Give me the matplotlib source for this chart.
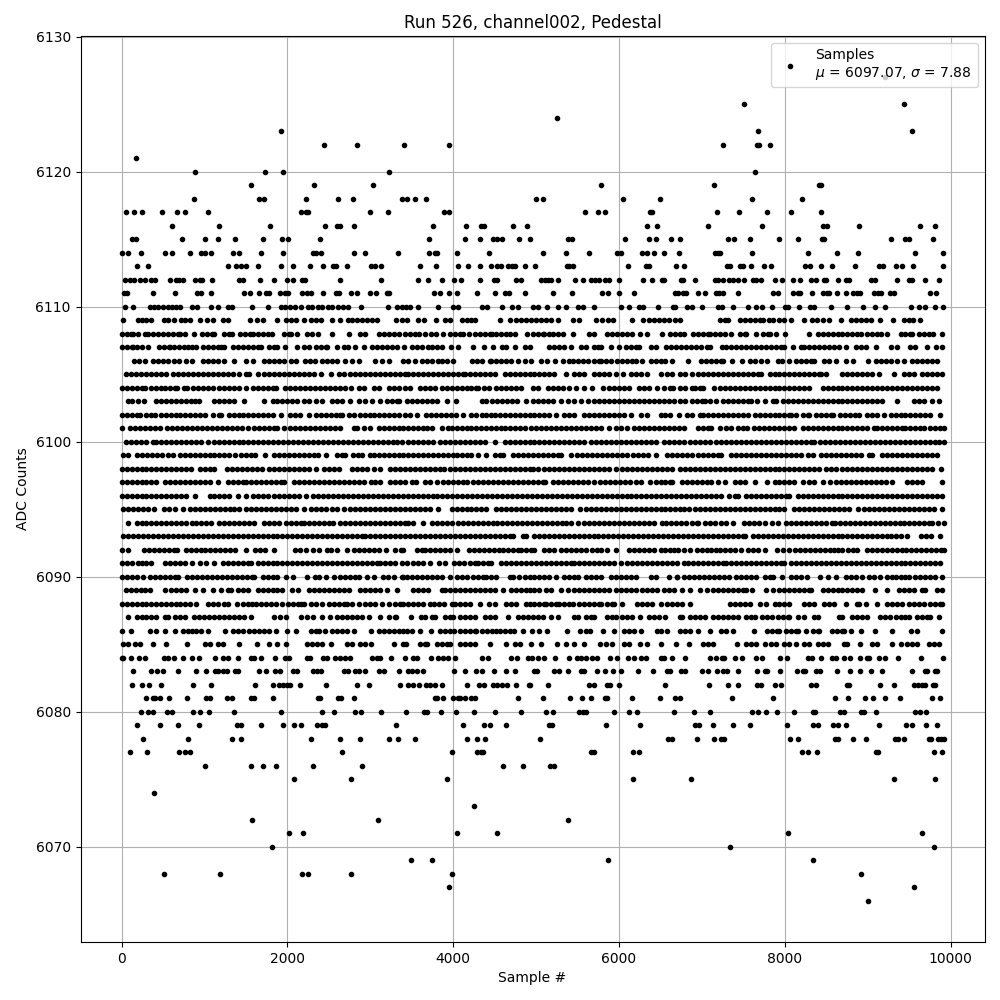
import matplotlib
matplotlib.use("Agg")
import matplotlib.pyplot as plt

s6127 = [9208]
s6125 = [7509, 9439]
s6124 = [5254]
s6123 = [1926, 7678, 9535]
s6122 = [2444, 2842, 3409, 3952, 7256, 7666, 7682, 7823]
s6121 = [177]
s6120 = [888, 1733, 1950, 3228, 7642]
s6119 = [1564, 2324, 3035, 5785, 7147, 8414, 8430]
s6118 = [876, 1660, 1720, 2227, 2613, 2794, 3385, 3445, 3542, 3674, 5001, 5085, 6050, 6496, 7606, 8209]
s6117 = [48, 145, 249, 490, 671, 768, 1045, 2167, 2227, 2251, 2999, 3216, 3891, 3952, 5592, 5749, 5833, 6372, 6392, 7184, 7449, 7787, 8077, 8438]
s6116 = [611, 1178, 1793, 2456, 2601, 2637, 2806, 3759, 4157, 4338, 4374, 4724, 4892, 6340, 6460, 7075, 7727, 8462, 8510, 8896, 9632, 9813]
s6115 = [129, 177, 732, 1009, 1166, 1371, 1709, 1938, 2010, 2396, 3710, 4145, 4326, 4482, 4522, 4591, 4796, 4925, 5387, 5435, 6075, 6364, 6448, 6629, 6738, 7316, 7389, 7582, 7932, 8161, 8450, 8470, 9282, 9451, 9500, 9789]
s6114 = [0, 80, 237, 527, 611, 828, 961, 1009, 1081, 1347, 1419, 1684, 1950, 2311, 2344, 2408, 2806, 2939, 3337, 3710, 3783, 3807, 4048, 4434, 5085, 5363, 5640, 5978, 6018, 6279, 6340, 6424, 6545, 6725, 7159, 7196, 7220, 7606, 8281, 8631, 8884, 9572, 9909]
s6113 = [189, 322, 1286, 1383, 1443, 1503, 1648, 1926, 2070, 2275, 2432, 2553, 2589, 2722, 3011, 3059, 3132, 3602, 3795, 4060, 4181, 4326, 4458, 4530, 4579, 4663, 4703, 4748, 4868, 4989, 5375, 5399, 5447, 6110, 6327, 6364, 6689, 6786, 7304, 7341, 7461, 7497, 7594, 7751, 7835, 8245, 8305, 8438, 8571, 8848, 9138, 9186, 9343, 9415, 9548, 9909]
s6112 = [44, 105, 153, 225, 285, 358, 406, 587, 659, 695, 744, 888, 949, 973, 1093, 1419, 1467, 1672, 1841, 1998, 2070, 2179, 2215, 2637, 3132, 3578, 3698, 3867, 4012, 4097, 4326, 4494, 4530, 4756, 4820, 5061, 5110, 5146, 5182, 5266, 5471, 5568, 5664, 5712, 5761, 5833, 5881, 6002, 6292, 6400, 6521, 6545, 6750, 6774, 6918, 7159, 7196, 7256, 7328, 7377, 7437, 7509, 7618, 7654, 7714, 7883, 7967, 8101, 8185, 8317, 8378, 8475, 8499, 8643, 8740, 8776, 9041, 9089, 9354, 9500, 9535, 9692, 9861]
s6111 = [28, 60, 382, 647, 912, 961, 1081, 1479, 1552, 1660, 1745, 1777, 1914, 1974, 2010, 2179, 2239, 2287, 2432, 2589, 2625, 2770, 2842, 2999, 3071, 3204, 3228, 3771, 3843, 3952, 4048, 4290, 4506, 4627, 4675, 4868, 5206, 5435, 5796, 5869, 6002, 6183, 6677, 6713, 6774, 6806, 6955, 7039, 7172, 7208, 7256, 7437, 7859, 7919, 8101, 8161, 8185, 8329, 8462, 8510, 8534, 8631, 8740, 8824, 8872, 8908, 9077, 9125, 9162, 9270, 9318, 9752, 9825]
s6110 = [41, 142, 342, 394, 443, 495, 563, 613, 653, 708, 853, 905, 1074, 1167, 1287, 1335, 1577, 1770, 1918, 1970, 2031, 2091, 2159, 2244, 2292, 2372, 2421, 2493, 2533, 2614, 2674, 2726, 2883, 3217, 3317, 3378, 3430, 3480, 3578, 3811, 4000, 4060, 4349, 4410, 4583, 4703, 4776, 4965, 5025, 5125, 5266, 5362, 5499, 5568, 5700, 6022, 6123, 6243, 6291, 6472, 6645, 6680, 6818, 6874, 7003, 7196, 7236, 7377, 7550, 7650, 7727, 7843, 8000, 8040, 8173, 8301, 8354, 8559, 8752, 8937, 9085, 9206, 9527, 9620, 9688, 9809, 9909]
s6109 = [20, 192, 248, 300, 352, 512, 560, 632, 712, 768, 820, 944, 1032, 1100, 1220, 1280, 1552, 1632, 1700, 1880, 1980, 2040, 2100, 2200, 2280, 2340, 2400, 2540, 2632, 2728, 2784, 2840, 2900, 2960, 3020, 3080, 3312, 3380, 3440, 3580, 3652, 3796, 3900, 3960, 4100, 4160, 4220, 4260, 4564, 4684, 4760, 4820, 4880, 4940, 5000, 5060, 5120, 5180, 5260, 5448, 5520, 5720, 5792, 5872, 5928, 6160, 6292, 6360, 6420, 6480, 6540, 6600, 6680, 6740, 7215, 7275, 7315, 7463, 7523, 7583, 7643, 7703, 7740, 7807, 7855, 7935, 7995, 8075, 8235, 8323, 8387, 8455, 8535, 8683, 8795, 8855, 8915, 8975, 9035, 9147, 9303, 9435, 9495, 9547, 9627]
s6108 = [10, 60, 110, 140, 200, 280, 320, 380, 440, 500, 560, 620, 680, 700, 768, 872, 968, 1032, 1090, 1112, 1232, 1290, 1328, 1432, 1490, 1550, 1580, 1640, 1700, 1760, 1808, 1960, 2020, 2040, 2112, 2240, 2300, 2368, 2540, 2740, 2872, 2940, 3100, 3168, 3230, 3290, 3350, 3420, 3480, 3540, 3592, 3660, 3732, 3788, 3872, 3960, 4020, 4080, 4120, 4188, 4260, 4320, 4380, 4440, 4468, 4520, 4580, 4640, 4680, 4740, 4888, 4960, 5020, 5080, 5100, 5152, 5208, 5260, 5320, 5444, 5640, 5700, 5860, 5920, 5980, 6040, 6100, 6160, 6252, 6340, 6520, 6620, 6680, 6740, 6780, 6895, 6955, 7015, 7075, 7095, 7155, 7215, 7275, 7347, 7455, 7515, 7535, 7655, 7735, 7795, 7815, 7899, 8007, 8287, 8395, 8455, 8515, 8575, 8635, 8695, 8755, 8815, 8875, 8915, 8995, 9055, 9115, 9155, 9227, 9395, 9455, 9515, 9535, 9615, 9675, 9735, 9787, 9895]
s6107 = [0, 60, 120, 140, 180, 240, 320, 448, 510, 570, 580, 632, 690, 750, 800, 848, 900, 980, 1040, 1100, 1160, 1200, 1240, 1340, 1400, 1460, 1520, 1580, 1640, 1680, 1780, 1840, 1880, 1968, 2120, 2200, 2260, 2340, 2400, 2460, 2480, 2592, 2680, 2732, 2820, 2920, 3020, 3080, 3140, 3200, 3260, 3320, 3412, 3500, 3560, 3620, 3700, 3740, 3800, 3860, 3972, 4060, 4240, 4372, 4480, 4588, 4640, 4744, 4868, 4920, 5160, 5220, 5280, 5340, 5420, 5540, 5600, 5700, 5750, 5780, 5900, 6004, 6080, 6140, 6200, 6240, 6380, 6440, 6572, 6630, 6690, 6750, 6810, 6870, 6930, 6990, 7060, 7095, 7243, 7295, 7355, 7415, 7475, 7535, 7595, 7655, 7715, 7775, 7835, 7895, 7955, 7995, 8095, 8195, 8235, 8295, 8355, 8415, 8475, 8535, 8595, 8655, 8735, 8855, 8915, 8975, 9095, 9275, 9347, 9507, 9575, 9715, 9827, 9895]
s6106 = [152, 210, 280, 380, 440, 500, 560, 632, 690, 780, 848, 980, 1040, 1100, 1160, 1240, 1352, 1500, 1580, 1720, 1780, 1840, 1900, 1960, 2040, 2108, 2212, 2270, 2330, 2420, 2480, 2540, 2600, 2700, 2780, 2860, 3060, 3140, 3224, 3400, 3460, 3540, 3620, 3680, 3740, 3820, 3860, 3920, 4000, 4228, 4290, 4350, 4440, 4460, 4520, 4580, 4640, 4700, 4780, 4860, 4932, 5060, 5130, 5228, 5320, 5400, 5440, 5500, 5560, 5620, 5700, 5760, 5780, 5840, 5900, 5980, 6040, 6100, 6160, 6200, 6280, 6380, 6440, 6500, 6560, 6640, 6827, 6987, 7050, 7110, 7170, 7235, 7255, 7363, 7487, 7575, 7635, 7715, 7790, 7915, 7963, 8055, 8135, 8195, 8255, 8315, 8355, 8475, 8535, 8615, 8735, 8819, 9007, 9095, 9155, 9215, 9275, 9355, 9443, 9535, 9595, 9655, 9715, 9775, 9835]
s6105 = [48, 110, 170, 230, 290, 350, 420, 480, 540, 620, 680, 740, 800, 860, 920, 980, 1040, 1100, 1160, 1220, 1280, 1340, 1420, 1500, 1540, 1640, 1720, 1780, 1840, 1900, 1960, 2020, 2080, 2140, 2200, 2260, 2320, 2408, 2520, 2620, 2680, 2760, 2820, 2880, 2940, 3000, 3060, 3120, 3180, 3240, 3300, 3360, 3420, 3460, 3520, 3580, 3640, 3700, 3760, 3820, 3880, 3940, 4000, 4060, 4120, 4140, 4200, 4260, 4320, 4380, 4440, 4500, 4620, 4680, 4740, 4800, 4860, 4920, 4980, 5040, 5100, 5160, 5220, 5360, 5460, 5520, 5580, 5700, 5760, 5820, 5880, 5960, 6052, 6148, 6210, 6270, 6340, 6500, 6580, 6640, 6740, 6800, 6875, 6955, 7015, 7075, 7135, 7195, 7255, 7315, 7375, 7435, 7495, 7555, 7615, 7675, 7715, 7815, 7875, 7935, 7995, 8055, 8115, 8175, 8235, 8295, 8355, 8415, 8435, 8495, 8695, 8755, 8815, 8875, 8935, 8995, 9055, 9135, 9315, 9435, 9495, 9555, 9655, 9715, 9775, 9835, 9895]
s6104 = [0, 60, 120, 180, 240, 280, 360, 420, 480, 520, 580, 640, 668, 752, 792, 860, 920, 980, 1040, 1100, 1180, 1240, 1300, 1360, 1420, 1500, 1580, 1640, 1700, 1760, 1820, 1860, 1968, 2030, 2090, 2150, 2210, 2270, 2330, 2390, 2450, 2510, 2570, 2630, 2690, 2768, 2860, 2920, 3040, 3100, 3220, 3280, 3340, 3420, 3480, 3600, 3660, 3720, 3780, 3860, 3920, 3980, 4040, 4100, 4160, 4220, 4280, 4300, 4372, 4436, 4520, 4580, 4640, 4700, 4760, 4820, 4960, 5020, 5140, 5200, 5260, 5320, 5400, 5480, 5580, 5668, 5812, 5880, 5940, 6000, 6060, 6120, 6240, 6300, 6360, 6460, 6540, 6620, 6652, 6730, 6790, 6880, 6915, 6975, 7015, 7147, 7215, 7275, 7335, 7395, 7455, 7515, 7575, 7635, 7695, 7755, 7815, 7875, 7935, 7995, 8055, 8115, 8175, 8235, 8295, 8455, 8515, 8575, 8635, 8695, 8755, 8815, 8875, 8935, 8995, 9055, 9115, 9175, 9235, 9295, 9355, 9415, 9475, 9535, 9595, 9655, 9715, 9775, 9835]
s6103 = [72, 130, 200, 272, 420, 480, 540, 600, 660, 720, 780, 840, 880, 928, 1112, 1180, 1240, 1300, 1360, 1480, 1712, 1820, 1880, 1940, 2000, 2060, 2120, 2200, 2260, 2340, 2420, 2540, 2600, 2660, 2752, 2860, 2940, 3020, 3120, 3200, 3260, 3320, 3340, 3440, 3500, 3560, 3620, 3680, 3740, 3800, 3920, 4036, 4348, 4400, 4470, 4530, 4590, 4650, 4710, 4770, 4880, 4960, 5020, 5080, 5140, 5200, 5300, 5380, 5460, 5540, 5620, 5700, 5760, 5820, 5880, 5940, 6000, 6060, 6120, 6180, 6240, 6300, 6360, 6420, 6480, 6540, 6600, 6660, 6740, 6800, 6875, 6935, 6995, 7035, 7095, 7175, 7255, 7315, 7375, 7435, 7495, 7555, 7595, 7667, 7755, 7855, 7895, 7975, 8035, 8095, 8155, 8215, 8275, 8335, 8395, 8455, 8515, 8575, 8635, 8695, 8755, 8815, 8875, 8935, 8995, 9055, 9115, 9175, 9347, 9555, 9615, 9675, 9775, 9859]
s6102 = [0, 60, 120, 180, 220, 300, 360, 408, 470, 530, 600, 650, 710, 770, 830, 890, 950, 1000, 1108, 1170, 1200, 1292, 1350, 1410, 1470, 1530, 1590, 1650, 1710, 1770, 1830, 1920, 2032, 2090, 2150, 2260, 2340, 2400, 2460, 2520, 2580, 2640, 2660, 2740, 2808, 2870, 2930, 2990, 3050, 3110, 3170, 3230, 3290, 3350, 3420, 3480, 3560, 3668, 3730, 3790, 3850, 3910, 3970, 4030, 4120, 4220, 4280, 4348, 4400, 4460, 4500, 4560, 4620, 4680, 4740, 4800, 4860, 4920, 4980, 5040, 5100, 5160, 5240, 5340, 5400, 5460, 5572, 5640, 5700, 5760, 5820, 5880, 5940, 6000, 6060, 6140, 6260, 6340, 6500, 6560, 6620, 6720, 6820, 6880, 6975, 7015, 7075, 7135, 7195, 7255, 7315, 7375, 7435, 7495, 7555, 7635, 7695, 7755, 7815, 7875, 7935, 7995, 8055, 8075, 8135, 8215, 8275, 8295, 8375, 8435, 8495, 8555, 8575, 8663, 8723, 8783, 8843, 8895, 8995, 9055, 9115, 9195, 9275, 9335, 9395, 9455, 9515, 9575, 9635, 9695, 9755, 9875]
s6101 = [0, 100, 160, 220, 280, 340, 400, 460, 548, 608, 668, 728, 788, 848, 908, 968, 1028, 1088, 1148, 1208, 1268, 1328, 1388, 1448, 1520, 1600, 1660, 1720, 1780, 1840, 1880, 1960, 2030, 2090, 2150, 2210, 2270, 2330, 2390, 2450, 2510, 2570, 2630, 2800, 2840, 2920, 3000, 3100, 3170, 3230, 3290, 3340, 3400, 3460, 3520, 3580, 3640, 3680, 3740, 3860, 3940, 3980, 4040, 4100, 4160, 4220, 4280, 4340, 4400, 4460, 4520, 4580, 4620, 4680, 4740, 4800, 4860, 4940, 5000, 5060, 5120, 5180, 5240, 5300, 5360, 5420, 5480, 5540, 5600, 5660, 5720, 5780, 5880, 5960, 6020, 6100, 6180, 6240, 6300, 6360, 6420, 6480, 6540, 6600, 6660, 6720, 6780, 6955, 7015, 7075, 7115, 7215, 7295, 7355, 7435, 7495, 7547, 7625, 7685, 7745, 7805, 7865, 7925, 7985, 8045, 8115, 8215, 8275, 8335, 8395, 8455, 8515, 8575, 8635, 8695, 8755, 8815, 8875, 8935, 8995, 9075, 9115, 9175, 9235, 9295, 9355, 9415, 9455, 9515, 9575, 9635, 9675, 9755, 9815, 9875, 9923]
s6100 = [48, 110, 170, 230, 290, 380, 420, 480, 540, 600, 660, 720, 780, 840, 900, 960, 1040, 1112, 1170, 1230, 1290, 1350, 1410, 1470, 1530, 1590, 1650, 1710, 1770, 1830, 1890, 1950, 2010, 2070, 2130, 2190, 2250, 2310, 2370, 2430, 2490, 2550, 2610, 2670, 2730, 2790, 2850, 2910, 2970, 3030, 3090, 3150, 3210, 3270, 3320, 3380, 3460, 3520, 3580, 3640, 3700, 3760, 3840, 3900, 3960, 4020, 4080, 4140, 4200, 4260, 4320, 4380, 4500, 4620, 4680, 4740, 4800, 4860, 4920, 4980, 5040, 5100, 5160, 5220, 5280, 5340, 5400, 5460, 5520, 5580, 5660, 5720, 5780, 5840, 5900, 5960, 6020, 6080, 6140, 6200, 6260, 6320, 6380, 6440, 6540, 6600, 6660, 6720, 6780, 6855, 6915, 6975, 7035, 7095, 7175, 7235, 7295, 7355, 7415, 7475, 7535, 7595, 7655, 7715, 7775, 7835, 7895, 7955, 8015, 8075, 8135, 8195, 8255, 8315, 8355, 8425, 8485, 8545, 8605, 8665, 8725, 8785, 8845, 8905, 8965, 9025, 9085, 9145, 9205, 9265, 9325, 9385, 9445, 9505, 9565, 9625, 9685, 9745, 9805, 9865, 9915]
s6099 = [20, 80, 180, 240, 312, 372, 432, 492, 560, 620, 700, 760, 820, 880, 940, 1000, 1060, 1120, 1180, 1240, 1300, 1368, 1440, 1500, 1560, 1612, 1728, 1840, 1900, 1960, 2020, 2080, 2140, 2200, 2260, 2320, 2368, 2460, 2600, 2660, 2700, 2790, 2850, 2900, 2990, 3050, 3110, 3170, 3230, 3290, 3350, 3400, 3460, 3520, 3580, 3640, 3700, 3760, 3820, 3880, 3940, 4000, 4040, 4100, 4160, 4220, 4300, 4400, 4500, 4560, 4600, 4720, 4780, 4840, 4900, 4960, 5020, 5080, 5140, 5200, 5260, 5300, 5420, 5490, 5550, 5610, 5670, 5730, 5790, 5850, 5910, 5970, 6030, 6090, 6170, 6230, 6290, 6350, 6440, 6580, 6640, 6700, 6755, 6815, 6875, 6955, 7015, 7075, 7135, 7195, 7235, 7355, 7415, 7475, 7535, 7595, 7655, 7715, 7775, 7835, 7895, 7955, 8015, 8075, 8135, 8195, 8275, 8335, 8435, 8495, 8555, 8615, 8675, 8735, 8795, 8855, 8915, 9015, 9055, 9175, 9235, 9295, 9355, 9415, 9475, 9535, 9595, 9655, 9715, 9775, 9835]
s6098 = [0, 60, 120, 180, 240, 300, 360, 420, 480, 540, 600, 660, 720, 780, 840, 940, 1000, 1060, 1120, 1272, 1330, 1390, 1450, 1510, 1570, 1630, 1690, 1780, 1840, 1900, 1960, 2020, 2080, 2140, 2200, 2260, 2340, 2440, 2500, 2560, 2620, 2780, 2840, 2900, 2960, 3040, 3120, 3240, 3300, 3360, 3420, 3480, 3540, 3600, 3660, 3720, 3780, 3840, 3892, 3960, 4020, 4080, 4140, 4200, 4260, 4320, 4380, 4440, 4500, 4560, 4620, 4680, 4740, 4800, 4860, 4920, 4960, 5020, 5100, 5160, 5220, 5280, 5340, 5400, 5460, 5520, 5580, 5640, 5700, 5760, 5820, 5880, 5960, 6040, 6100, 6160, 6220, 6280, 6340, 6400, 6460, 6520, 6580, 6640, 6735, 6795, 6855, 6915, 6975, 7035, 7095, 7155, 7215, 7275, 7335, 7395, 7455, 7515, 7575, 7635, 7695, 7755, 7815, 7875, 7935, 7995, 8055, 8115, 8175, 8235, 8295, 8355, 8415, 8495, 8555, 8615, 8695, 8755, 8815, 8875, 8935, 8995, 9055, 9115, 9175, 9235, 9295, 9355, 9415, 9475, 9535, 9595, 9655, 9715, 9775, 9887]
s6097 = [0, 60, 120, 180, 240, 300, 360, 420, 520, 580, 640, 700, 760, 820, 880, 940, 1000, 1060, 1160, 1288, 1340, 1400, 1460, 1500, 1560, 1620, 1680, 1740, 1800, 1860, 1920, 1960, 2080, 2140, 2200, 2260, 2320, 2380, 2440, 2500, 2560, 2620, 2680, 2740, 2800, 2860, 2920, 3008, 3060, 3120, 3240, 3300, 3360, 3420, 3500, 3552, 3660, 3720, 3800, 3880, 3940, 4000, 4060, 4120, 4160, 4240, 4300, 4360, 4420, 4480, 4540, 4600, 4660, 4720, 4780, 4840, 4900, 4960, 5020, 5080, 5108, 5200, 5260, 5320, 5380, 5440, 5500, 5560, 5620, 5700, 5770, 5830, 5890, 5950, 6010, 6070, 6130, 6200, 6260, 6372, 6450, 6500, 6560, 6620, 6640, 6760, 6815, 6875, 6935, 6995, 7055, 7115, 7195, 7283, 7395, 7455, 7515, 7635, 7779, 7875, 7935, 7995, 8055, 8115, 8215, 8295, 8355, 8455, 8550, 8615, 8675, 8735, 8795, 8855, 8915, 8975, 9035, 9095, 9155, 9215, 9295, 9475, 9535, 9595, 9655, 9895]
s6096 = [0, 60, 120, 180, 240, 300, 360, 420, 480, 540, 600, 660, 720, 780, 880, 1060, 1120, 1180, 1240, 1300, 1400, 1500, 1580, 1640, 1700, 1760, 1840, 1900, 1960, 2020, 2080, 2140, 2224, 2310, 2370, 2430, 2490, 2550, 2610, 2670, 2730, 2790, 2850, 2910, 2970, 3030, 3090, 3150, 3210, 3270, 3330, 3390, 3450, 3510, 3570, 3630, 3690, 3750, 3810, 3870, 3930, 3990, 4050, 4110, 4170, 4230, 4290, 4350, 4410, 4470, 4530, 4590, 4650, 4710, 4770, 4830, 4890, 4950, 5010, 5070, 5130, 5190, 5250, 5310, 5370, 5430, 5490, 5550, 5610, 5670, 5730, 5790, 5850, 5910, 5970, 6030, 6090, 6150, 6210, 6270, 6330, 6390, 6450, 6510, 6570, 6630, 6690, 6750, 6810, 6870, 6930, 6990, 7050, 7110, 7170, 7230, 7323, 7395, 7435, 7535, 7595, 7655, 7715, 7775, 7835, 7895, 7955, 8015, 8055, 8155, 8215, 8275, 8335, 8395, 8455, 8515, 8575, 8635, 8695, 8755, 8815, 8875, 8935, 8995, 9055, 9115, 9175, 9235, 9295, 9355, 9415, 9475, 9535, 9595, 9655, 9715, 9775, 9835, 9895]
s6095 = [20, 80, 140, 200, 260, 320, 392, 512, 570, 640, 740, 830, 890, 950, 1010, 1070, 1130, 1190, 1250, 1310, 1360, 1420, 1500, 1560, 1620, 1680, 1740, 1800, 1860, 1920, 1980, 2040, 2100, 2200, 2280, 2340, 2400, 2460, 2540, 2600, 2680, 2760, 2820, 2880, 2940, 3000, 3060, 3120, 3180, 3240, 3300, 3360, 3420, 3480, 3540, 3600, 3660, 3720, 3820, 3980, 4040, 4100, 4160, 4220, 4280, 4340, 4400, 4520, 4580, 4640, 4700, 4760, 4820, 4880, 4940, 5000, 5060, 5120, 5180, 5240, 5300, 5360, 5420, 5532, 5600, 5660, 5720, 5780, 5840, 5900, 5960, 6020, 6080, 6140, 6200, 6260, 6320, 6380, 6440, 6500, 6560, 6620, 6680, 6740, 6780, 6843, 6915, 6975, 7035, 7095, 7155, 7215, 7275, 7335, 7395, 7455, 7515, 7575, 7635, 7695, 7755, 7815, 7875, 7935, 7995, 8107, 8175, 8235, 8295, 8355, 8415, 8475, 8535, 8595, 8655, 8715, 8775, 8887, 8955, 9015, 9075, 9135, 9195, 9255, 9315, 9375, 9435, 9495, 9555, 9615, 9675, 9735, 9795, 9895]
s6094 = [72, 180, 240, 300, 360, 420, 480, 540, 600, 660, 720, 780, 848, 900, 960, 1020, 1080, 1180, 1240, 1300, 1360, 1420, 1480, 1540, 1600, 1720, 1780, 1840, 1900, 1980, 2040, 2100, 2160, 2200, 2260, 2320, 2380, 2440, 2500, 2552, 2640, 2700, 2760, 2820, 2880, 2940, 3000, 3060, 3120, 3180, 3240, 3300, 3360, 3420, 3460, 3520, 3640, 3740, 3800, 3860, 3920, 3980, 4060, 4120, 4180, 4240, 4300, 4360, 4420, 4480, 4532, 4592, 4652, 4712, 4772, 4832, 4892, 4952, 5012, 5072, 5132, 5192, 5252, 5312, 5360, 5420, 5500, 5580, 5640, 5700, 5760, 5820, 5880, 5940, 6000, 6060, 6120, 6180, 6240, 6300, 6360, 6420, 6512, 6570, 6630, 6690, 6750, 6810, 6875, 6935, 6955, 7035, 7095, 7155, 7235, 7295, 7375, 7507, 7567, 7627, 7687, 7763, 7843, 7923, 8015, 8075, 8135, 8195, 8255, 8315, 8375, 8435, 8495, 8563, 8603, 8663, 8723, 8783, 8843, 8903, 8963, 9023, 9083, 9143, 9203, 9263, 9323, 9383, 9443, 9503, 9563, 9623, 9683, 9743, 9775, 9847, 9915]
s6093 = [20, 80, 140, 200, 260, 320, 380, 440, 500, 560, 620, 680, 740, 800, 860, 920, 980, 1040, 1100, 1160, 1220, 1280, 1340, 1400, 1460, 1520, 1580, 1640, 1700, 1760, 1820, 1880, 1940, 2000, 2060, 2120, 2180, 2240, 2300, 2360, 2420, 2480, 2540, 2600, 2660, 2720, 2780, 2840, 2900, 2940, 3000, 3060, 3120, 3180, 3240, 3300, 3360, 3420, 3480, 3540, 3600, 3660, 3720, 3780, 3840, 3900, 3960, 4020, 4080, 4140, 4200, 4260, 4320, 4380, 4440, 4500, 4560, 4620, 4680, 4720, 4840, 4880, 4972, 5032, 5092, 5152, 5212, 5272, 5332, 5392, 5452, 5512, 5572, 5632, 5692, 5752, 5812, 5872, 5932, 5992, 6052, 6112, 6172, 6232, 6292, 6352, 6412, 6472, 6532, 6592, 6652, 6712, 6772, 6832, 6892, 6952, 7012, 7072, 7132, 7192, 7252, 7312, 7372, 7432, 7492, 7515, 7615, 7675, 7735, 7795, 7855, 7915, 7975, 8035, 8095, 8155, 8215, 8275, 8335, 8395, 8455, 8515, 8575, 8635, 8695, 8755, 8815, 8875, 8935, 8995, 9055, 9115, 9175, 9235, 9275, 9335, 9395, 9475, 9643, 9703, 9763, 9875]
s6092 = [8, 72, 272, 332, 392, 452, 512, 572, 632, 672, 780, 840, 900, 960, 1008, 1068, 1128, 1188, 1248, 1308, 1368, 1496, 1608, 1668, 1728, 1840, 2092, 2152, 2220, 2312, 2380, 2480, 2528, 2592, 2720, 2800, 2860, 2920, 2980, 3040, 3100, 3188, 3300, 3368, 3388, 3560, 3620, 3660, 3720, 3780, 3840, 3900, 3960, 4040, 4188, 4248, 4308, 4368, 4428, 4488, 4548, 4600, 4660, 4720, 4780, 4820, 4880, 4940, 4980, 5100, 5160, 5220, 5300, 5360, 5420, 5480, 5540, 5600, 5668, 5728, 5788, 5860, 5960, 6120, 6180, 6240, 6300, 6360, 6420, 6500, 6560, 6620, 6660, 6780, 6715, 6855, 6935, 6995, 7055, 7115, 7175, 7215, 7275, 7335, 7395, 7475, 7555, 7615, 7675, 7763, 7907, 7975, 8055, 8123, 8183, 8243, 8303, 8363, 8423, 8483, 8543, 8587, 8643, 8695, 8763, 8823, 8875, 8987, 9055, 9107, 9167, 9227, 9287, 9347, 9407, 9467, 9527, 9587, 9647, 9707, 9767, 9827, 9887, 9915]
s6091 = [0, 60, 120, 200, 240, 300, 360, 528, 588, 648, 708, 768, 848, 940, 1020, 1112, 1220, 1280, 1340, 1400, 1460, 1520, 1560, 1640, 1700, 1760, 1820, 1880, 1940, 2000, 2060, 2120, 2180, 2240, 2300, 2360, 2420, 2480, 2540, 2600, 2660, 2720, 2780, 2840, 2900, 2960, 3020, 3080, 3120, 3180, 3240, 3300, 3380, 3440, 3520, 3580, 3640, 3720, 3828, 3900, 4012, 4072, 4132, 4200, 4260, 4300, 4360, 4420, 4460, 4572, 4640, 4700, 4760, 4820, 4880, 4940, 5000, 5060, 5120, 5180, 5240, 5300, 5360, 5420, 5460, 5520, 5580, 5640, 5700, 5760, 5820, 5880, 5940, 6020, 6100, 6160, 6220, 6280, 6340, 6400, 6460, 6520, 6580, 6640, 6700, 6780, 6835, 6895, 6955, 7015, 7075, 7135, 7195, 7255, 7295, 7355, 7415, 7475, 7535, 7595, 7655, 7715, 7775, 7835, 7895, 7955, 7995, 8075, 8135, 8195, 8255, 8315, 8375, 8435, 8495, 8555, 8615, 8675, 8735, 8795, 8855, 8915, 8975, 9035, 9095, 9155, 9215, 9275, 9335, 9395, 9455, 9515, 9575, 9635, 9695, 9755, 9815, 9875]
s6090 = [0, 60, 120, 180, 260, 340, 400, 460, 520, 580, 640, 680, 792, 852, 912, 972, 1032, 1092, 1152, 1212, 1272, 1332, 1392, 1452, 1512, 1572, 1600, 1700, 1760, 1820, 1880, 1980, 2072, 2232, 2328, 2380, 2460, 2560, 2632, 2700, 2760, 2820, 2860, 2960, 3040, 3152, 3212, 3280, 3380, 3388, 3448, 3508, 3568, 3628, 3688, 3748, 3808, 3868, 3960, 4040, 4100, 4160, 4240, 4300, 4360, 4400, 4460, 4520, 4680, 4720, 4788, 4860, 4920, 4980, 5040, 5100, 5160, 5240, 5340, 5400, 5460, 5500, 5600, 5660, 5720, 5780, 5900, 5960, 6020, 6080, 6140, 6200, 6380, 6440, 6600, 6700, 6780, 6695, 6847, 6907, 6967, 7027, 7087, 7147, 7207, 7267, 7327, 7415, 7475, 7535, 7595, 7655, 7755, 7815, 7855, 7963, 8075, 8135, 8195, 8267, 8427, 8523, 8615, 8735, 8795, 8855, 8935, 9015, 9075, 9147, 9235, 9295, 9335, 9395, 9455, 9495, 9575, 9635, 9695, 9755, 9815, 9895]
s6089 = [48, 108, 168, 228, 288, 340, 520, 600, 660, 720, 780, 880, 980, 1100, 1200, 1280, 1320, 1400, 1460, 1520, 1640, 1700, 1760, 1820, 1880, 1940, 2060, 2132, 2260, 2320, 2380, 2440, 2500, 2560, 2620, 2680, 2740, 2880, 2940, 3000, 3060, 3120, 3200, 3320, 3520, 3580, 3640, 3700, 3860, 3900, 3960, 4020, 4080, 4140, 4200, 4260, 4320, 4380, 4440, 4500, 4600, 4700, 4760, 4820, 4880, 4920, 4980, 5040, 5120, 5180, 5300, 5380, 5460, 5520, 5580, 5640, 5700, 5760, 5820, 5880, 5960, 6020, 6080, 6140, 6200, 6280, 6340, 6400, 6460, 6540, 6600, 6660, 6760, 6855, 6975, 7055, 7135, 7195, 7255, 7315, 7375, 7435, 7495, 7535, 7603, 7775, 7855, 7935, 7995, 8055, 8115, 8175, 8235, 8295, 8315, 8455, 8515, 8575, 8635, 8695, 8755, 8815, 8875, 8935, 9085, 9235, 9375, 9435, 9495, 9555, 9655, 9695, 9835, 9895]
s6088 = [0, 60, 120, 180, 240, 300, 360, 420, 480, 540, 600, 660, 708, 768, 828, 892, 1040, 1100, 1160, 1240, 1280, 1392, 1460, 1520, 1568, 1620, 1680, 1740, 1800, 1860, 1940, 2008, 2068, 2128, 2160, 2200, 2280, 2340, 2420, 2500, 2560, 2620, 2680, 2720, 2780, 2860, 2940, 3000, 3060, 3140, 3220, 3300, 3360, 3388, 3460, 3520, 3580, 3640, 3720, 3772, 3832, 3892, 3980, 4020, 4080, 4140, 4200, 4320, 4432, 4500, 4640, 4700, 4760, 4880, 4920, 4980, 5040, 5100, 5120, 5180, 5240, 5280, 5340, 5400, 5440, 5520, 5580, 5640, 5700, 5760, 5780, 5860, 5920, 5940, 6040, 6220, 6280, 6340, 6400, 6500, 6580, 6640, 6700, 6760, 6860, 7335, 7395, 7455, 7515, 7575, 7695, 7775, 7875, 7935, 7995, 8055, 8235, 8295, 8355, 8475, 8535, 8595, 8743, 8875, 8895, 8975, 9115, 9235, 9295, 9355, 9415, 9495, 9555, 9615, 9675, 9747, 9807, 9867, 9895]
s6087 = [72, 180, 240, 300, 360, 420, 520, 560, 640, 700, 760, 872, 932, 992, 1052, 1112, 1172, 1232, 1292, 1352, 1412, 1480, 1560, 1832, 1912, 1980, 2168, 2240, 2312, 2412, 2512, 2592, 2660, 2720, 2780, 2840, 2900, 2980, 3120, 3220, 3300, 3312, 3488, 3612, 3660, 3740, 3780, 3900, 3960, 4000, 4080, 4140, 4200, 4260, 4388, 4448, 4500, 4660, 4780, 4840, 4900, 4960, 5020, 5080, 5180, 5260, 5460, 5500, 5600, 5660, 5700, 5860, 5920, 5960, 6032, 6092, 6160, 6248, 6360, 6420, 6480, 6560, 6740, 6755, 6855, 6915, 6975, 7035, 7135, 7195, 7255, 7315, 7375, 7435, 7535, 7595, 7635, 7723, 7783, 7843, 7915, 7975, 8035, 8055, 8155, 8235, 8355, 8395, 8655, 8695, 8815, 8875, 8935, 8995, 9147, 9207, 9267, 9335, 9395, 9455, 9495, 9595, 9655, 9715, 9755, 9855]
s6086 = [0, 112, 340, 420, 520, 640, 740, 800, 848, 900, 960, 1040, 1252, 1340, 1400, 1460, 1540, 1600, 1660, 1720, 1780, 1868, 2000, 2100, 2280, 2340, 2380, 2448, 2540, 2600, 2660, 2720, 2808, 3008, 3100, 3160, 3220, 3280, 3340, 3400, 3440, 3508, 3600, 3732, 3840, 3900, 3960, 4012, 4080, 4140, 4200, 4260, 4280, 4348, 4408, 4468, 4520, 4560, 4620, 4680, 4732, 4840, 4948, 5032, 5132, 5368, 5532, 5600, 5652, 5812, 5940, 6060, 6120, 6180, 6260, 6460, 6500, 6580, 6732, 6795, 6855, 6955, 7095, 7235, 7295, 7375, 7627, 7787, 7847, 7907, 7935, 8015, 8075, 8135, 8155, 8255, 8335, 8395, 8415, 8563, 8623, 8695, 8715, 8803, 8923, 9087, 9295, 9523, 9595, 9895]
s6085 = [20, 80, 160, 220, 380, 540, 788, 1000, 1060, 1160, 1220, 1412, 1628, 1772, 1880, 1988, 2240, 2300, 2360, 2420, 2520, 2720, 2780, 2880, 2940, 3008, 3288, 3400, 3428, 3600, 3660, 3680, 3800, 3860, 3920, 3960, 4080, 4140, 4200, 4260, 4448, 4640, 4740, 4800, 4932, 5060, 5248, 5360, 5460, 5580, 5772, 5840, 5920, 6060, 6120, 6248, 6340, 6500, 6692, 6843, 7015, 7075, 7135, 7423, 7535, 7595, 7655, 7755, 7835, 7895, 7995, 8055, 8135, 8235, 8287, 8395, 8455, 8515, 8715, 8755, 8903, 9055, 9115, 9287, 9395, 9475, 9535, 9595, 9735, 9795, 9855]
s6084 = [0, 20, 117, 213, 285, 515, 563, 635, 744, 852, 937, 1130, 1226, 1286, 1407, 1564, 1600, 1684, 1853, 1974, 2022, 2239, 2275, 2432, 2480, 2577, 2637, 2697, 2758, 3023, 3083, 3120, 3252, 3421, 3517, 3566, 3735, 3819, 3879, 3940, 4024, 4350, 4422, 4700, 4772, 4904, 4953, 5025, 5097, 5230, 5399, 5487, 5536, 5604, 5676, 5737, 5893, 5978, 6110, 6182, 6267, 6328, 6508, 6545, 6641, 6798, 7100, 7172, 7244, 7268, 7401, 7485, 7654, 7726, 7943, 8028, 8281, 8329, 8438, 8571, 8619, 8716, 8788, 8908, 8992, 9017, 9138, 9210, 9367, 9644, 9909]
s6083 = [141, 358, 430, 502, 683, 900, 1021, 1130, 1166, 1226, 1274, 1371, 1407, 1652, 1745, 1853, 1914, 2070, 2119, 2311, 2360, 2400, 2685, 2734, 2818, 2866, 2939, 3108, 3168, 3349, 3457, 3505, 3566, 3638, 4012, 4145, 4278, 4350, 4494, 4639, 4748, 4977, 5013, 5218, 5278, 5387, 5544, 5580, 5737, 5833, 5930, 6026, 6231, 6412, 6580, 6616, 6750, 6798, 7003, 7075, 7184, 7256, 7304, 7437, 7666, 7762, 7787, 7943, 8149, 8221, 8245, 8378, 8426, 8631, 8788, 8908, 9041, 9174, 9535, 9692, 9716, 9813, 9837]
s6082 = [129, 249, 334, 478, 864, 1081, 1612, 1829, 1901, 1950, 1998, 2034, 2155, 2468, 2842, 2987, 3361, 3457, 3518, 3590, 3674, 3723, 3783, 3867, 4169, 4314, 4374, 4482, 4522, 4591, 4651, 4760, 4916, 4929, 5146, 5640, 5700, 5857, 5893, 6002, 6556, 7087, 7316, 7437, 7666, 7714, 7883, 7955, 8317, 8378, 8752, 8776, 9150, 9318, 9560, 9608, 9657, 9692, 9789, 9813]
s6081 = [297, 382, 406, 466, 575, 792, 1021, 1069, 1274, 1335, 1564, 1600, 1829, 2372, 2396, 2613, 2649, 2806, 3783, 3807, 3879, 4000, 4060, 4084, 4145, 4217, 4265, 4784, 5085, 5411, 5556, 5664, 5833, 5857, 6158, 6496, 6677, 6738, 7365, 7859, 8607, 8764, 8969, 9065, 9210, 9391, 9777, 9873]
s6080 = [237, 322, 382, 551, 611, 864, 949, 1057, 1359, 1926, 2420, 2565, 2818, 2890, 3132, 3433, 3650, 3686, 3855, 4036, 4253, 4506, 4820, 5122, 5206, 5520, 5568, 5604, 5941, 6122, 6219, 6665, 6906, 7100, 7606, 7678, 7775, 7907, 8112, 8341, 8365, 8668, 8716, 8921, 8957, 9101, 9572, 9632, 9704]
s6079 = [189, 466, 683, 937, 1395, 1443, 1684, 1950, 2082, 2167, 2360, 2420, 2456, 3312, 4120, 4374, 4446, 4639, 5158, 5194, 5845, 6255, 6918, 6967, 7136, 7377, 7582, 8028, 8341, 8402, 8583, 8643, 8740, 9138, 9463, 9535, 9704, 9837]
s6078 = [261, 804, 1335, 1443, 2287, 2637, 2878, 3228, 3337, 3542, 4169, 4290, 4386, 5049, 6593, 6641, 6943, 7147, 7232, 7268, 8064, 8161, 8607, 8643, 8824, 8981, 9330, 9367, 9439, 9740, 9764, 9849, 9885, 9921]
s6077 = [105, 310, 695, 768, 828, 2661, 3988, 4290, 4338, 4362, 5664, 5700, 6170, 6243, 8209, 8281, 8390, 9101, 9125, 9801, 9897]
s6076 = [1009, 1564, 1709, 1865, 2311, 2902, 4603, 4844, 5170, 5218]
s6075 = [2082, 2770, 3928, 6170, 6870, 9318, 9813]
s6074 = [394]
s6073 = [4253]
s6072 = [1576, 3095, 5387]
s6071 = [2022, 2191, 4048, 4531, 8040, 9657]
s6070 = [1817, 7340, 9801]
s6069 = [3493, 3747, 5869, 8341]
s6068 = [515, 1190, 2179, 2251, 2770, 3988, 8921]
s6067 = [3952, 9560]
s6066 = [9005]

levels = [6127, 6125, 6124, 6123, 6122, 6121, 6120, 6119, 6118, 6117, 6116, 6115, 6114, 6113, 6112, 6111, 6110, 6109, 6108, 6107, 6106, 6105, 6104, 6103, 6102, 6101, 6100, 6099, 6098, 6097, 6096, 6095, 6094, 6093, 6092, 6091, 6090, 6089, 6088, 6087, 6086, 6085, 6084, 6083, 6082, 6081, 6080, 6079, 6078, 6077, 6076, 6075, 6074, 6073, 6072, 6071, 6070, 6069, 6068, 6067, 6066]
rows = [s6127, s6125, s6124, s6123, s6122, s6121, s6120, s6119, s6118, s6117, s6116, s6115, s6114, s6113, s6112, s6111, s6110, s6109, s6108, s6107, s6106, s6105, s6104, s6103, s6102, s6101, s6100, s6099, s6098, s6097, s6096, s6095, s6094, s6093, s6092, s6091, s6090, s6089, s6088, s6087, s6086, s6085, s6084, s6083, s6082, s6081, s6080, s6079, s6078, s6077, s6076, s6075, s6074, s6073, s6072, s6071, s6070, s6069, s6068, s6067, s6066]

xs = []
ys = []
for level, row in zip(levels, rows):
    xs.extend(row)
    ys.extend([level] * len(row))

fig, ax = plt.subplots(figsize=(10, 10), dpi=100)
ax.plot(xs, ys, "k.", label="Samples\n$\\mu$ = 6097.07, $\\sigma$ = 7.88")
ax.set_xlim(-496, 10408)
ax.set_ylim(6062.95, 6130.05)
ax.set_xticks([0, 2000, 4000, 6000, 8000, 10000])
ax.ticklabel_format(useOffset=False, style="plain", axis="y")
ax.set_title("Run 526, channel002, Pedestal")
ax.set_xlabel("Sample #")
ax.set_ylabel("ADC Counts")
ax.grid(True)
ax.legend(loc="upper right")
fig.subplots_adjust(left=0.0805, right=0.9845, top=0.964, bottom=0.058)
fig.savefig("out.png", dpi=100)
